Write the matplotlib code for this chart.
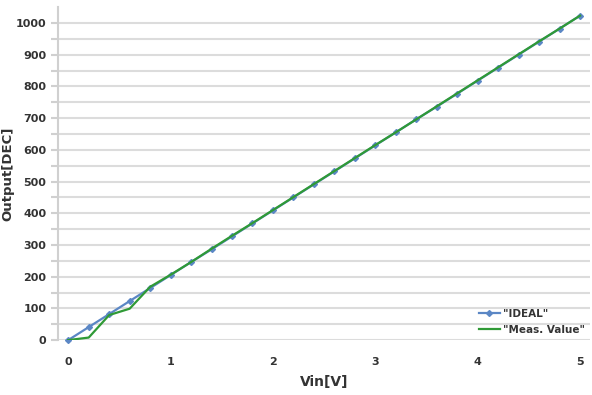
import numpy as np
import matplotlib.pyplot as plt

vin = [0, 0.2, 0.4, 0.6, 0.8, 1.0, 1.2, 1.4, 1.6, 1.8, 2.0, 2.2, 2.4, 2.6, 2.8,
       3.0, 3.2, 3.4, 3.6, 3.8, 4.0, 4.2, 4.4, 4.6, 4.8, 5.0]
ideal = [0, 41, 82, 123, 164, 205, 246, 286, 327, 368, 409, 450, 491, 532, 573,
         614, 655, 696, 736, 777, 818, 859, 900, 941, 982, 1023]
meas = [0, 8, 79, 99, 168, 206, 246, 288, 329, 369, 410, 451, 492, 533, 574,
        615, 655, 696, 737, 778, 819, 860, 901, 942, 982, 1023]

fig = plt.figure(figsize=(5.92, 3.95), dpi=100)
ax = fig.add_axes([0.098, 0.139, 0.899, 0.843])

ax.plot(vin, ideal, color="#5b87c5", lw=1.6, marker="D", ms=3,
        label='"IDEAL"', clip_on=False, zorder=3)
ax.plot(vin, meas, color="#2f9a36", lw=1.6, label='"Meas. Value"', zorder=4)

ax.set_xlim(-0.1, 5.1)
ax.set_ylim(0, 1050)
ax.set_xticks([0, 1, 2, 3, 4, 5])
ax.set_yticks(np.arange(0, 1001, 100))
ax.set_yticks(np.arange(50, 1050, 100), minor=True)
ax.grid(axis="y", which="both", color="#dcdcdc", lw=1.5)
ax.set_axisbelow(True)

for s in ["top", "right", "bottom"]:
    ax.spines[s].set_visible(False)
ax.spines["left"].set_color("#d0d0d0")
ax.spines["left"].set_linewidth(1.5)
ax.tick_params(axis="y", which="both", length=5, color="#d0d0d0", width=1.5,
               labelsize=8, labelcolor="#333333")
ax.tick_params(axis="x", length=0, pad=12, labelsize=8, labelcolor="#333333")
for lab in ax.get_xticklabels() + ax.get_yticklabels():
    lab.set_fontweight("bold")

ax.set_xlabel("Vin[V]", fontsize=10, fontweight="bold", color="#333333", labelpad=6)
ax.set_ylabel("Output[DEC]", fontsize=9.5, fontweight="bold", color="#333333", labelpad=1)

leg = ax.legend(loc="lower right", frameon=False, fontsize=7.5, handlelength=2.0,
                borderaxespad=0.1, labelspacing=0.6, handletextpad=0.3,
                bbox_to_anchor=(1.0, 0.0))
for t in leg.get_texts():
    t.set_fontweight("bold")
    t.set_color("#333333")

plt.savefig("out.png", dpi=100)
